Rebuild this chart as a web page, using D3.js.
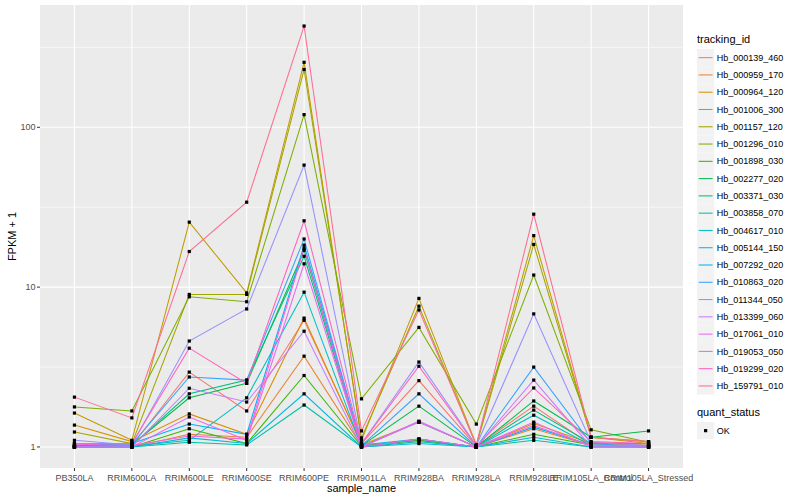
<!DOCTYPE html>
<html>
<head>
<meta charset="utf-8">
<script src="https://cdn.jsdelivr.net/npm/d3@7"></script>
<style>
  body { margin: 0; background: #fff; }
  text { font-family: "Liberation Sans", Arial, sans-serif; }
</style>
</head>
<body>
<div id="chart"></div>
<script>
const samples = ['PB350LA', 'RRIM600LA', 'RRIM600LE', 'RRIM600SE', 'RRIM600PE', 'RRIM901LA',
  'RRIM928BA', 'RRIM928LA', 'RRIM928LE', 'RRIM105LA_Control', 'RRIM105LA_Stressed'];

const trackingIds = ['Hb_000139_460', 'Hb_000959_170', 'Hb_000964_120', 'Hb_001006_300', 'Hb_001157_120',
  'Hb_001296_010', 'Hb_001898_030', 'Hb_002277_020', 'Hb_003371_030', 'Hb_003858_070',
  'Hb_004617_010', 'Hb_005144_150', 'Hb_007292_020', 'Hb_010863_020', 'Hb_011344_050',
  'Hb_013399_060', 'Hb_017061_010', 'Hb_019053_050', 'Hb_019299_020', 'Hb_159791_010'];

const colors = ['#F8766D', '#EA8331', '#D89000', '#C09B00', '#A3A500', '#7CAE00', '#39B600', '#00BB4E',
  '#00BF7D', '#00C1A3', '#00BFC4', '#00BAE0', '#00B0F6', '#35A2FF', '#9590FF', '#C77CFF',
  '#E76BF3', '#FA62DB', '#FF62BC', '#FF6C91'];

// FPKM + 1, one row per tracking_id, one value per sample
const fpkm = [
  [1.05, 1.02, 2.94, 1.68, 6.2, 1.05, 2.6, 1.01, 1.8, 1.03, 1.02],
  [1.0, 1.0, 1.2, 1.15, 3.7, 1.02, 1.1, 1.0, 1.3, 1.02, 1.0],
  [1.37, 1.08, 1.61, 1.2, 6.4, 1.03, 1.43, 1.0, 1.4, 1.05, 1.03],
  [1.63, 1.1, 25.5, 9.2, 255, 1.1, 8.5, 1.03, 21, 1.15, 1.05],
  [1.24, 1.05, 9.0, 9.0, 230, 1.14, 7.6, 1.02, 18.5, 1.15, 1.08],
  [1.78, 1.68, 8.7, 8.1, 120, 2.0, 5.6, 1.39, 11.9, 1.28, 1.07],
  [1.0, 1.0, 1.3, 1.05, 2.8, 1.01, 1.1, 1.0, 1.2, 1.03, 1.02],
  [1.02, 1.03, 2.03, 2.5, 17, 1.02, 1.8, 1.0, 1.94, 1.15, 1.26],
  [1.0, 1.02, 2.15, 2.62, 15.6, 1.01, 1.43, 1.0, 1.7, 1.05, 1.05],
  [1.0, 1.0, 1.07, 1.03, 1.83, 1.0, 1.08, 1.0, 1.1, 1.0, 1.0],
  [1.0, 1.01, 1.1, 2.03, 9.3, 1.0, 1.12, 1.0, 1.58, 1.02, 1.0],
  [1.0, 1.0, 1.14, 1.05, 2.15, 1.0, 1.05, 1.0, 1.15, 1.0, 1.0],
  [1.02, 1.05, 1.39, 1.2, 18.3, 1.03, 1.12, 1.0, 1.33, 1.03, 1.0],
  [1.0, 1.04, 2.74, 2.62, 20, 1.02, 2.15, 1.0, 3.16, 1.05, 1.0],
  [1.1, 1.03, 4.6, 7.3, 58, 1.05, 3.4, 1.02, 6.8, 1.07, 1.02],
  [1.0, 1.0, 2.33, 1.91, 5.3, 1.0, 1.43, 1.0, 2.62, 1.0, 1.0],
  [1.0, 1.0, 1.54, 1.1, 14, 1.0, 1.45, 1.0, 1.43, 1.0, 1.0],
  [1.04, 1.02, 1.17, 1.12, 17.5, 1.0, 1.12, 1.0, 1.36, 1.02, 1.02],
  [1.05, 1.05, 4.15, 2.5, 26, 1.05, 3.2, 1.01, 2.34, 1.08, 1.05],
  [2.05, 1.52, 16.7, 34, 430, 1.26, 7.2, 1.03, 28.6, 1.15, 1.08]
];

const yTicks = [1, 10, 100];
const yMinor = [Math.sqrt(10), Math.sqrt(1000), Math.sqrt(100000)];

const W = 800, H = 500;
const panel = { left: 40, right: 683, top: 5, bottom: 468 };
const pt = 3.2;

const svg = d3.select('#chart').append('svg')
  .attr('width', W).attr('height', H);

// x: discrete, ggplot expands by 0.6 of a step on each side
const x = d3.scalePoint()
  .domain(samples)
  .range([panel.left, panel.right])
  .padding(0.6);

// y: log10, 5% expansion of the data range
const allVals = fpkm.flat();
const lo = Math.log10(d3.min(allVals)), hi = Math.log10(d3.max(allVals));
const pad = (hi - lo) * 0.05;
const y = d3.scaleLog()
  .domain([Math.pow(10, lo - pad), Math.pow(10, hi + pad)])
  .range([panel.bottom, panel.top]);

svg.append('rect')
  .attr('x', panel.left).attr('y', panel.top)
  .attr('width', panel.right - panel.left).attr('height', panel.bottom - panel.top)
  .attr('fill', '#EBEBEB');

const grid = svg.append('g');
grid.selectAll('line.minor').data(yMinor).enter().append('line')
  .attr('x1', panel.left).attr('x2', panel.right)
  .attr('y1', d => y(d)).attr('y2', d => y(d))
  .attr('stroke', '#fff').attr('stroke-width', 0.55);
grid.selectAll('line.majory').data(yTicks).enter().append('line')
  .attr('x1', panel.left).attr('x2', panel.right)
  .attr('y1', d => y(d)).attr('y2', d => y(d))
  .attr('stroke', '#fff').attr('stroke-width', 1.1);
grid.selectAll('line.majorx').data(samples).enter().append('line')
  .attr('x1', d => x(d)).attr('x2', d => x(d))
  .attr('y1', panel.top).attr('y2', panel.bottom)
  .attr('stroke', '#fff').attr('stroke-width', 1.1);

const line = d3.line()
  .x((d, i) => x(samples[i]))
  .y(d => y(d));

svg.append('g').selectAll('path').data(fpkm).enter().append('path')
  .attr('d', line)
  .attr('fill', 'none')
  .attr('stroke', (d, i) => colors[i])
  .attr('stroke-width', 1.05);

const pts = [];
fpkm.forEach(row => row.forEach((v, j) => pts.push({ s: samples[j], v })));
svg.append('g').selectAll('rect').data(pts).enter().append('rect')
  .attr('x', d => x(d.s) - pt / 2).attr('y', d => y(d.v) - pt / 2)
  .attr('width', pt).attr('height', pt)
  .attr('fill', '#000');

// axes
const yAxis = svg.append('g');
yAxis.selectAll('line').data(yTicks).enter().append('line')
  .attr('x1', panel.left - 3).attr('x2', panel.left)
  .attr('y1', d => y(d)).attr('y2', d => y(d))
  .attr('stroke', '#333').attr('stroke-width', 1);
yAxis.selectAll('text').data(yTicks).enter().append('text')
  .attr('x', panel.left - 4.5).attr('y', d => y(d)).attr('dy', '0.35em')
  .attr('text-anchor', 'end').attr('font-size', 9).attr('fill', '#4D4D4D')
  .text(d => d3.format(',')(d));

const xAxis = svg.append('g');
xAxis.selectAll('line').data(samples).enter().append('line')
  .attr('x1', d => x(d)).attr('x2', d => x(d))
  .attr('y1', panel.bottom).attr('y2', panel.bottom + 3)
  .attr('stroke', '#333').attr('stroke-width', 1);
xAxis.selectAll('text').data(samples).enter().append('text')
  .attr('x', d => x(d)).attr('y', panel.bottom + 13)
  .attr('text-anchor', 'middle').attr('font-size', 9).attr('fill', '#4D4D4D')
  .text(d => d);

svg.append('text')
  .attr('x', (panel.left + panel.right) / 2).attr('y', 492)
  .attr('text-anchor', 'middle').attr('font-size', 11).text('sample_name');
svg.append('text')
  .attr('transform', `translate(16,${(panel.top + panel.bottom) / 2}) rotate(-90)`)
  .attr('text-anchor', 'middle').attr('font-size', 11).text('FPKM + 1');

// legend
const lg = svg.append('g').attr('transform', 'translate(697,0)');
lg.append('text').attr('x', 0).attr('y', 43).attr('font-size', 11).text('tracking_id');
const keyH = 17.28;
const items = lg.selectAll('g.item').data(trackingIds).enter().append('g')
  .attr('transform', (d, i) => `translate(0,${49 + i * keyH})`);
items.append('rect').attr('width', keyH).attr('height', keyH).attr('fill', '#F2F2F2');
items.append('line')
  .attr('x1', 1.7).attr('x2', keyH - 1.7)
  .attr('y1', keyH / 2).attr('y2', keyH / 2)
  .attr('stroke', (d, i) => colors[i]).attr('stroke-width', 1.05);
items.append('text')
  .attr('x', keyH + 2.5).attr('y', keyH / 2).attr('dy', '0.35em')
  .attr('font-size', 9).text(d => d);

lg.append('text').attr('x', 0).attr('y', 416).attr('font-size', 11).text('quant_status');
lg.append('rect').attr('x', 0).attr('y', 422).attr('width', keyH).attr('height', keyH).attr('fill', '#F2F2F2');
lg.append('rect').attr('x', keyH / 2 - pt / 2).attr('y', 422 + keyH / 2 - pt / 2)
  .attr('width', pt).attr('height', pt).attr('fill', '#000');
lg.append('text').attr('x', keyH + 2.5).attr('y', 422 + keyH / 2).attr('dy', '0.35em')
  .attr('font-size', 9).text('OK');
</script>
</body>
</html>
